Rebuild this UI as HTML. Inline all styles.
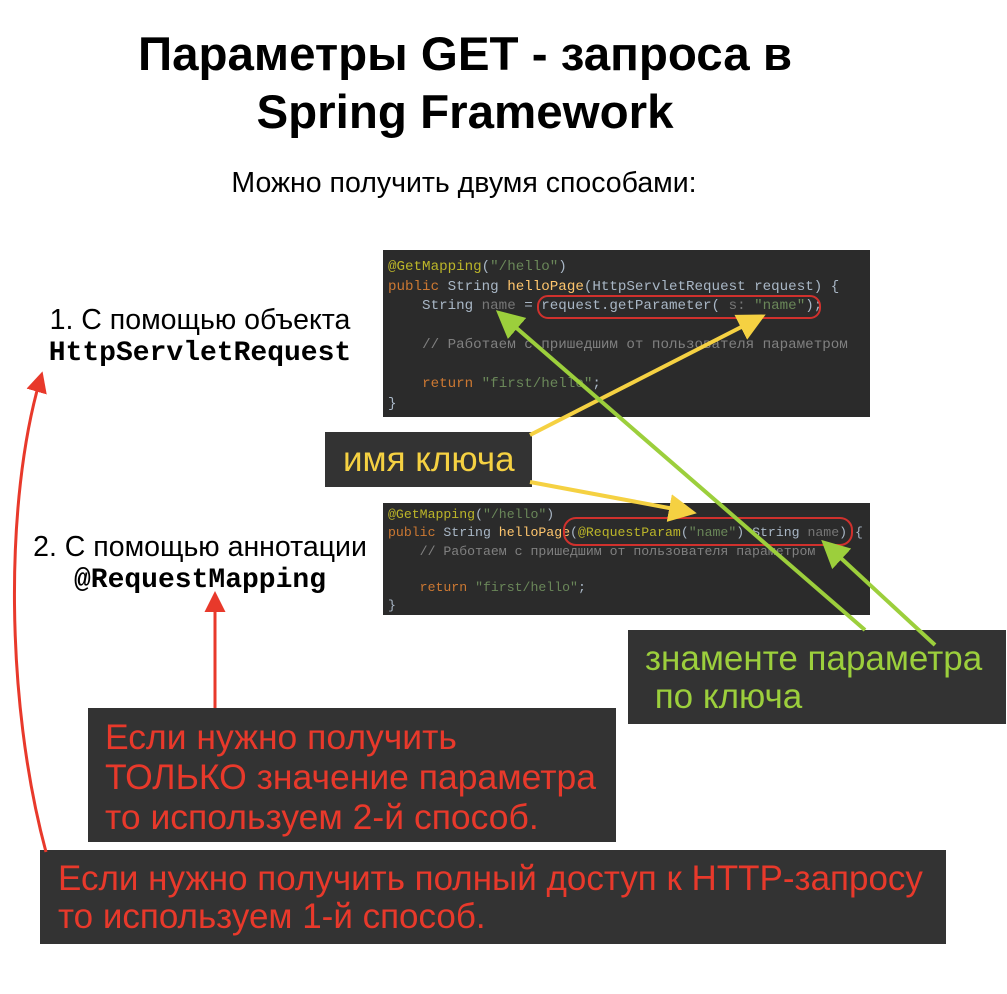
<!DOCTYPE html>
<html><head><meta charset="utf-8"><style>
body{margin:0;width:1007px;height:994px;background:#fff;position:relative;overflow:hidden;font-family:"Liberation Sans",sans-serif}
.a{position:absolute}
.code{position:absolute;background:#2b2b2b;font-family:"Liberation Mono",monospace;color:#a9b7c6;white-space:pre;padding-left:5px;box-sizing:border-box}
.k{color:#cc7832}.an{color:#bbb529}.s{color:#6a8759}.f{color:#ffc66d}.c{color:#808080}.g{color:#777}
.box{position:absolute;background:#333;}
.m{font-family:"Liberation Mono",monospace;font-weight:bold;font-size:28px}
</style></head><body>
<div class="a" style="left:0;width:930px;top:26px;text-align:center;font-size:47.5px;font-weight:bold;line-height:58px;color:#000">Параметры GET - запроса в<br>Spring Framework</div>
<div class="a" style="left:0;width:928px;top:167px;text-align:center;font-size:28.5px">Можно получить двумя способами:</div>
<div class="a" style="left:0;width:400px;top:305px;text-align:center;font-size:28.5px;line-height:31px">1. С помощью объекта<br><span class="m">HttpServletRequest</span></div>
<div class="a" style="left:0;width:400px;top:532px;text-align:center;font-size:28.5px;line-height:31px">2. С помощью аннотации<br><span class="m">@RequestMapping</span></div>
<div class="code" style="left:383px;top:250px;width:487px;height:167px;padding-top:8px;line-height:19.5px;font-size:14.2px"><span class="an">@GetMapping</span>(<span class="s">"/hello"</span>)
<span class="k">public</span> String <span class="f">helloPage</span>(HttpServletRequest request) {
    String <span class="g">name</span> = request.getParameter( <span class="g">s:</span> <span class="s">"name"</span>);

    <span class="c">// Работаем с пришедшим от пользователя параметром</span>

    <span class="k">return</span> <span class="s">"first/hello"</span>;
}</div>
<div class="code" style="left:383px;top:503px;width:487px;height:112px;padding-top:3px;line-height:18.3px;font-size:13.2px"><span class="an">@GetMapping</span>(<span class="s">"/hello"</span>)
<span class="k">public</span> String <span class="f">helloPage</span>(<span class="an">@RequestParam</span>(<span class="s">"name"</span>) String <span class="g">name</span>) {
    <span class="c">// Работаем с пришедшим от пользователя параметром</span>

    <span class="k">return</span> <span class="s">"first/hello"</span>;
}</div>
<div class="box" style="left:325px;top:432px;width:207px;height:55px;color:#f5d142;font-size:35px;line-height:55px;padding-left:18px;box-sizing:border-box">имя ключа</div>
<div class="box" style="left:628px;top:630px;width:378px;height:94px;color:#9ccf3c;font-size:35px;line-height:38px;padding:10px 0 0 17px;box-sizing:border-box">знаменте параметра<br>&nbsp;по ключа</div>
<div class="box" style="left:88px;top:708px;width:528px;height:134px;color:#e8392b;font-size:35.5px;line-height:40px;padding:9px 0 0 17px;box-sizing:border-box">Если нужно получить<br>ТОЛЬКО значение параметра<br>то используем 2-й способ.</div>
<div class="box" style="left:40px;top:850px;width:906px;height:94px;color:#e8392b;font-size:35px;line-height:38px;padding:10px 0 0 18px;box-sizing:border-box">Если нужно получить полный доступ к HTTP-запросу<br>то используем 1-й способ.</div>
<svg class="a" style="left:0;top:0" width="1007" height="994">
<defs>
<marker id="y" markerWidth="7" markerHeight="7" refX="4" refY="3.5" orient="auto"><path d="M0,0L7,3.5L0,7z" fill="#f5d142"/></marker>
<marker id="g" markerWidth="7" markerHeight="7" refX="4" refY="3.5" orient="auto"><path d="M0,0L7,3.5L0,7z" fill="#9ccf3c"/></marker>
<marker id="r" markerWidth="7" markerHeight="7" refX="4" refY="3.5" orient="auto"><path d="M0,0L7,3.5L0,7z" fill="#e8392b"/></marker>
</defs>
<g fill="none" stroke="#d0312d" stroke-width="2">
<rect x="538" y="296" width="282" height="22" rx="10"/>
<rect x="564" y="518" width="288" height="27" rx="12"/>
</g>
<g stroke-width="4" fill="none">
<line x1="530" y1="435" x2="755" y2="320" stroke="#f5d142" marker-end="url(#y)"/>
<line x1="530" y1="482" x2="685" y2="511" stroke="#f5d142" marker-end="url(#y)"/>
<line x1="865" y1="630" x2="505" y2="318" stroke="#9ccf3c" marker-end="url(#g)"/>
<line x1="935" y1="645" x2="830" y2="548" stroke="#9ccf3c" marker-end="url(#g)"/>
<line x1="215" y1="708" x2="215" y2="600" stroke="#e8392b" stroke-width="3" marker-end="url(#r)"/>
<path d="M46,852 C5,700 5,500 40,380" stroke="#e8392b" stroke-width="3" marker-end="url(#r)"/>
</g>
</svg>
</body></html>
